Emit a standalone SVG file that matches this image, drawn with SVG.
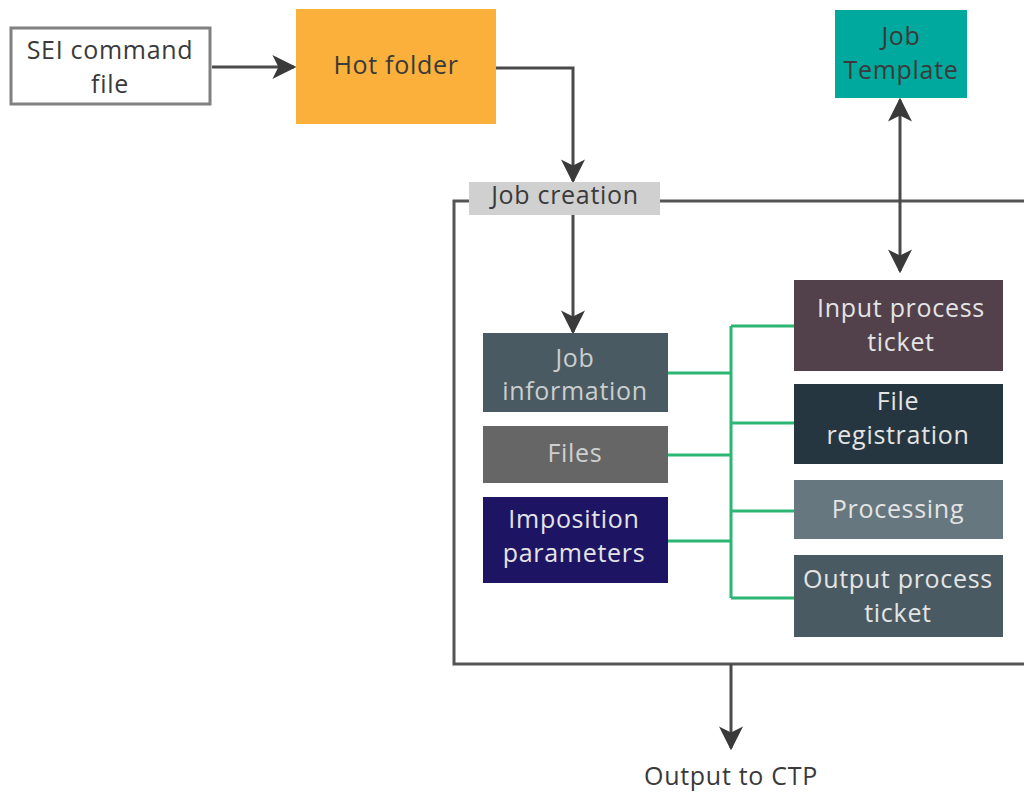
<svg xmlns="http://www.w3.org/2000/svg" width="1024" height="792" viewBox="0 0 1024 792">
<defs>
<style>
text{font-family:"Open Sans",Lato,"Liberation Sans",sans-serif;font-size:25px;letter-spacing:0.7px;text-anchor:middle}
.dk{fill:#3a3a3a}
.lt{fill:#e4e4e4}
.conn{stroke:#4a4a4a;stroke-width:3;fill:none}
.grn{stroke:#2bb673;stroke-width:3;fill:none}
</style>
<marker id="ah2" viewBox="0 0 20 20" refX="18" refY="10" markerWidth="24" markerHeight="24" markerUnits="userSpaceOnUse" orient="auto-start-reverse">
<path d="M0,0 L20,10 L0,20 L5,10 Z" fill="#3a3a3a"/>
</marker>
</defs>
<rect width="1024" height="792" fill="#fff"/>
<g id="container">
<path d="M469,201 H454 V664 H1024" stroke="#555" stroke-width="3" fill="none"/>
<path d="M660,201 H1024" stroke="#555" stroke-width="3" fill="none"/>
</g>
<g id="connectors">
<path class="conn" d="M212,67 H294" marker-end="url(#ah2)"/>
<path class="conn" d="M496,68 H573 V181" marker-end="url(#ah2)"/>
<path class="conn" d="M573,215 V332" marker-end="url(#ah2)"/>
<path class="conn" d="M900,100 V271" marker-start="url(#ah2)" marker-end="url(#ah2)"/>
<path class="conn" d="M731,664 V748" marker-end="url(#ah2)"/>
<path class="grn" d="M731,326 V598"/>
<path class="grn" d="M668,373 H731 M668,455 H731 M668,541 H731"/>
<path class="grn" d="M731,326 H794 M731,423 H794 M731,511 H794 M731,598 H794"/>
</g>
<g id="sei">
<rect x="11" y="28" width="199" height="76" fill="#fff" stroke="#808080" stroke-width="3"/>
<text class="dk" x="110" y="59">SEI command</text>
<text class="dk" x="110" y="93">file</text>
</g>
<g id="hotfolder">
<rect x="296" y="9" width="200" height="115" fill="#fbb03b"/>
<text class="dk" x="396" y="74">Hot folder</text>
</g>
<g id="jobtemplate">
<rect x="835" y="10" width="132" height="88" fill="#00a99d"/>
<text class="dk" x="901" y="45">Job</text>
<text class="dk" x="901" y="79">Template</text>
</g>
<g id="jobcreation">
<rect x="469" y="182" width="191" height="33" fill="#d0d0d0"/>
<text class="dk" x="565" y="204">Job creation</text>
</g>
<g id="jobinfo">
<rect x="483" y="333" width="185" height="79" fill="#4a5a62"/>
<text class="lt" x="575" y="367" fill-opacity="0.85">Job</text>
<text class="lt" x="575" y="400" fill-opacity="0.85">information</text>
</g>
<g id="files">
<rect x="483" y="426" width="185" height="57" fill="#666666"/>
<text class="lt" x="575" y="462" fill-opacity="0.85">Files</text>
</g>
<g id="imposition">
<rect x="483" y="497" width="185" height="86" fill="#1e1464"/>
<text class="lt" x="574" y="528">Imposition</text>
<text class="lt" x="574" y="562">parameters</text>
</g>
<g id="inputticket">
<rect x="794" y="280" width="209" height="91" fill="#52414a"/>
<text class="lt" x="901" y="317">Input process</text>
<text class="lt" x="901" y="351">ticket</text>
</g>
<g id="fileregistration">
<rect x="794" y="384" width="209" height="80" fill="#263640"/>
<text class="lt" x="898" y="410">File</text>
<text class="lt" x="898" y="444">registration</text>
</g>
<g id="processing">
<rect x="794" y="480" width="209" height="59" fill="#66777f"/>
<text class="lt" x="898" y="518">Processing</text>
</g>
<g id="outputticket">
<rect x="794" y="555" width="209" height="82" fill="#4a5a62"/>
<text class="lt" x="898" y="588">Output process</text>
<text class="lt" x="898" y="622">ticket</text>
</g>
<g id="ctp">
<text class="dk" x="731" y="785">Output to CTP</text>
</g>
</svg>
